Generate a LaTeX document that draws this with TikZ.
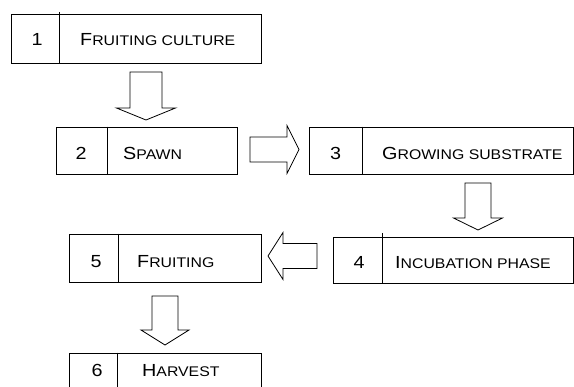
\documentclass[tikz,border=0pt]{standalone}
\usepackage{fontspec}
\newfontfamily\arialx[FakeStretch=1.13]{Liberation Sans}
\newcommand\bigsc{\fontsize{17.5}{18}\selectfont}
\newcommand\smlsc{\fontsize{14}{15}\selectfont}
\newcommand\scap[2]{{\bigsc #1}{\smlsc #2}}
\newcommand\downblock[6]{% cx, shaft half, head half, y top, y head base, y tip
  \draw[blockarrow] (#1-#2,#4) -- (#1+#2,#4) -- (#1+#2,#5) -- (#1+#3,#5) -- (#1,#6) -- (#1-#3,#5) -- (#1-#2,#5) -- cycle;}
\newcommand\sideblock[6]{% cy, shaft half, head half, x tail, x head base, x tip
  \draw[blockarrow] (#4,#1-#2) -- (#5,#1-#2) -- (#5,#1-#3) -- (#6,#1) -- (#5,#1+#3) -- (#5,#1+#2) -- (#4,#1+#2) -- cycle;}
\begin{document}
\begin{tikzpicture}[x=1pt,y=-1pt,
  boxshape/.style={draw=black, line width=0.8pt, inner sep=0pt, rectangle},
  txt/.style={inner sep=0pt, font=\arialx\bigsc},
  divline/.style={line width=0.8pt},
  blockarrow/.style={draw=black, line width=0.8pt, line join=miter}]
\useasboundingbox (0,0) rectangle (574,387);

% box 1
\node[boxshape, minimum width=250pt, minimum height=49pt] (b1) at (136,38.5) {};
\draw[divline] (59,12) -- (59,0 |- b1.south);
\node[txt, anchor=base] (n1) at (37,45.3) {1};
\node[txt, anchor=base west] (l1) at (80,45.3) {\scap{F}{RUITING CULTURE}};

% box 2
\node[boxshape, minimum width=181pt, minimum height=47pt] (b2) at (146.5,150.5) {};
\draw[divline] (107,0 |- b2.north) -- (107,0 |- b2.south);
\node[txt, anchor=base] (n2) at (81,159.3) {2};
\node[txt, anchor=base west] (l2) at (123,159.3) {\scap{S}{PAWN}};

% box 3
\node[boxshape, minimum width=264pt, minimum height=47pt] (b3) at (441,150.5) {};
\draw[divline] (362,0 |- b3.north) -- (362,0 |- b3.south);
\node[txt, anchor=base] (n3) at (335.5,159.3) {3};
\node[txt, anchor=base west] (l3) at (382,159.3) {\scap{G}{ROWING SUBSTRATE}};

% box 4
\node[boxshape, minimum width=240pt, minimum height=46pt] (b4) at (453,260) {};
\draw[divline] (382,233) -- (382,0 |- b4.south);
\node[txt, anchor=base] (n4) at (359,268.3) {4};
\node[txt, anchor=base west] (l4) at (395,268.3) {\scap{I}{NCUBATION PHASE}};

% box 5
\node[boxshape, minimum width=192pt, minimum height=48pt] (b5) at (165,258) {};
\draw[divline] (118,0 |- b5.north) -- (118,0 |- b5.south);
\node[txt, anchor=base] (n5) at (96,268) {5};
\node[txt, anchor=base west] (l5) at (137,268) {\scap{F}{RUITING}};

% box 6
\node[boxshape, minimum width=192pt, minimum height=48pt] (b6) at (165,377) {};
\draw[divline] (117,0 |- b6.north) -- (117,0 |- b6.south);
\node[txt, anchor=base] (n6) at (97,376.8) {6};
\node[txt, anchor=base west] (l6) at (142,376.8) {\scap{H}{ARVEST}};

% block arrows
\downblock{146}{16}{29.5}{72}{108}{120}
\sideblock{149.5}{12.5}{24}{250}{287}{299}
\downblock{478}{13}{24.5}{183}{218}{230}
\sideblock{256}{12.5}{23.5}{317}{283}{268}
\downblock{165}{13}{24}{296}{330}{345}
\end{tikzpicture}
\end{document}
